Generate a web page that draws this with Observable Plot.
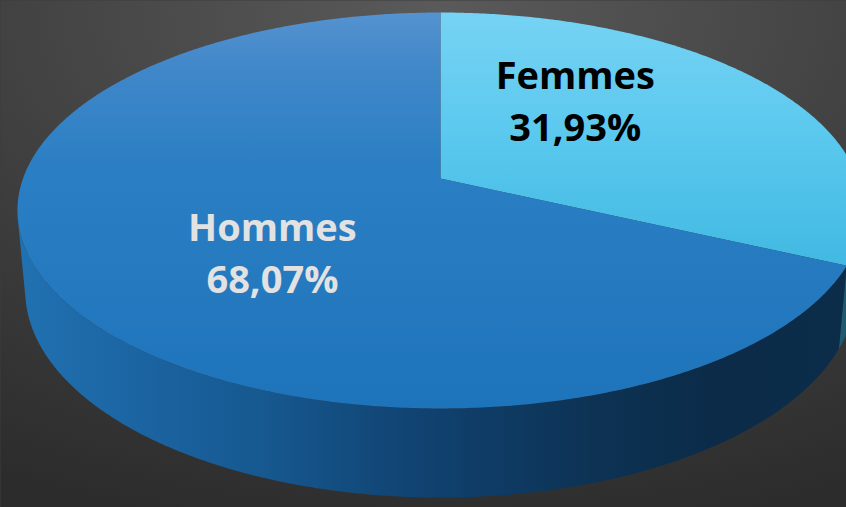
<!DOCTYPE html>
<html><head><meta charset="utf-8">
<script src="https://cdn.jsdelivr.net/npm/d3@7"></script>
<script src="https://cdn.jsdelivr.net/npm/@observablehq/plot@0.6"></script>
<style>html,body{margin:0;padding:0;background:#3c3c3c;overflow:hidden}</style>
</head><body><div id="chart"></div>
<script>
// ---- data ----
const categories = ["Femmes", "Hommes"];
const shares = [31.93, 68.07];
const valueLabels = ["31,93%", "68,07%"];

// ---- layout / style ----
const W = 846, H = 507;
const CX = 440, CY = 178, K = 417.5;          // pie centre on screen and scale
const L = 5.49, PHI = 27.5 * Math.PI / 180;   // camera distance and elevation
const DEPTH = 0.2175;                         // pie thickness
const S = Math.sin(PHI), C = Math.cos(PHI);
const topFill = ["url(#gFemTop)", "url(#gHomTop)"];
const sideFill = ["url(#gFemSide)", "url(#gHomSide)"];
const textFill = ["#000000", "#e2e2e2"];
const LABEL_R = 0.535, LABEL_SHIFT = -15;

function project(aDeg, r, py) {
  const t = aDeg * Math.PI / 180;
  const px = r * Math.sin(t), pz = -r * Math.cos(t);
  const d = L - (py * S + pz * C);
  return {x: px * L / d, y: (pz * S - py * C) * L / d};
}
function arc(a0, a1, r, py) {
  const pts = [], n = Math.max(2, Math.ceil(Math.abs(a1 - a0) / 0.5));
  for (let i = 0; i <= n; i++) pts.push(project(a0 + (a1 - a0) * i / n, r, py));
  return pts;
}

const total = d3.sum(shares);
let acc = 0;
const slices = categories.map((c, i) => {
  const a0 = acc / total * 360; acc += shares[i];
  const a1 = acc / total * 360;
  return {c, i, a0, a1, mid: (a0 + a1) / 2};
});

const vMin = Math.acos(-1 / (L * C)) * 180 / Math.PI, vMax = 360 - vMin;

const marks = [Plot.frame({fill: "url(#gBg)", stroke: "none"})];

// shadow under the pie
const shadowPts = arc(0, 360, 1.0, -DEPTH - 0.012);
marks.push(Plot.line(shadowPts, {x: "x", y: "y", fill: "#000", fillOpacity: 0.9, stroke: "none", curve: "linear-closed", ariaLabel: "shadow"}));

// sides
for (const s of slices) {
  const lo = Math.max(s.a0, vMin), hi = Math.min(s.a1, vMax);
  if (hi <= lo) continue;
  const pts = arc(lo, hi, 1, 0).concat(arc(hi, lo, 1, -DEPTH));
  marks.push(Plot.line(pts, {x: "x", y: "y", fill: sideFill[s.i], stroke: "none", curve: "linear-closed"}));
}
// tops
for (const s of slices) {
  const pts = [project(0, 0, 0)].concat(arc(s.a0, s.a1, 1, 0));
  marks.push(Plot.line(pts, {x: "x", y: "y", fill: topFill[s.i], stroke: "none", curve: "linear-closed"}));
}
// labels
const labels = slices.map(s => {
  const p = project(s.mid + LABEL_SHIFT, LABEL_R, 0);
  return {x: p.x, y: p.y, text: s.c + "\n" + valueLabels[s.i], fill: textFill[s.i]};
});
marks.push(Plot.text(labels, {x: "x", y: "y", text: "text", fill: "fill", fontSize: 38, fontWeight: 700,
  fontFamily: "'Open Sans', sans-serif", lineHeight: 1.37, lineAnchor: "middle", dx: -7, dy: -9}));

const svg = Plot.plot({
  width: W, height: H, margin: 0,
  x: {domain: [(0 - CX) / K, (W - CX) / K], range: [0, W], axis: null},
  y: {domain: [(0 - CY) / K, (H - CY) / K], range: [0, H], axis: null},
  color: {type: "identity"},
  style: {background: "transparent"},
  marks
});

d3.select(svg).insert("defs", ":first-child").html(`
  <radialGradient id="gBg" cx="0.52" cy="0.02" r="1.05">
    <stop offset="0" stop-color="#5a5a5a"/>
    <stop offset="0.55" stop-color="#3f3f3f"/>
    <stop offset="1" stop-color="#2c2c2c"/>
  </radialGradient>
  <linearGradient id="gHomTop" x1="0" y1="0" x2="0" y2="1">
    <stop offset="0" stop-color="#5592d0"/>
    <stop offset="0.15" stop-color="#3f87c9"/>
    <stop offset="0.4" stop-color="#2a7ec4"/>
    <stop offset="1" stop-color="#1e74ba"/>
  </linearGradient>
  <linearGradient id="gFemTop" x1="0" y1="0" x2="0" y2="1">
    <stop offset="0" stop-color="#76d3f4"/>
    <stop offset="0.5" stop-color="#5ac8ee"/>
    <stop offset="1" stop-color="#41b9e2"/>
  </linearGradient>
  <linearGradient id="gHomSide" x1="0" y1="0" x2="1" y2="0">
    <stop offset="0" stop-color="#2171b1"/>
    <stop offset="0.15" stop-color="#1b64a2"/>
    <stop offset="0.3" stop-color="#16588f"/>
    <stop offset="0.45" stop-color="#114676"/>
    <stop offset="0.55" stop-color="#0f3d68"/>
    <stop offset="0.7" stop-color="#0d3253"/>
    <stop offset="0.85" stop-color="#0b2b48"/>
    <stop offset="1" stop-color="#0c2d4a"/>
  </linearGradient>
  <linearGradient id="gFemSide" x1="0" y1="0" x2="1" y2="0">
    <stop offset="0" stop-color="#1e5d72"/>
    <stop offset="1" stop-color="#1a5062"/>
  </linearGradient>
  <filter id="fShadow" x="-0.1" y="-0.1" width="1.2" height="1.3">
    <feGaussianBlur stdDeviation="4"/>
  </filter>`);
d3.select(svg).select('g[aria-label="shadow"]').attr("filter", "url(#fShadow)");

document.getElementById("chart").appendChild(svg);
</script>
</body></html>
